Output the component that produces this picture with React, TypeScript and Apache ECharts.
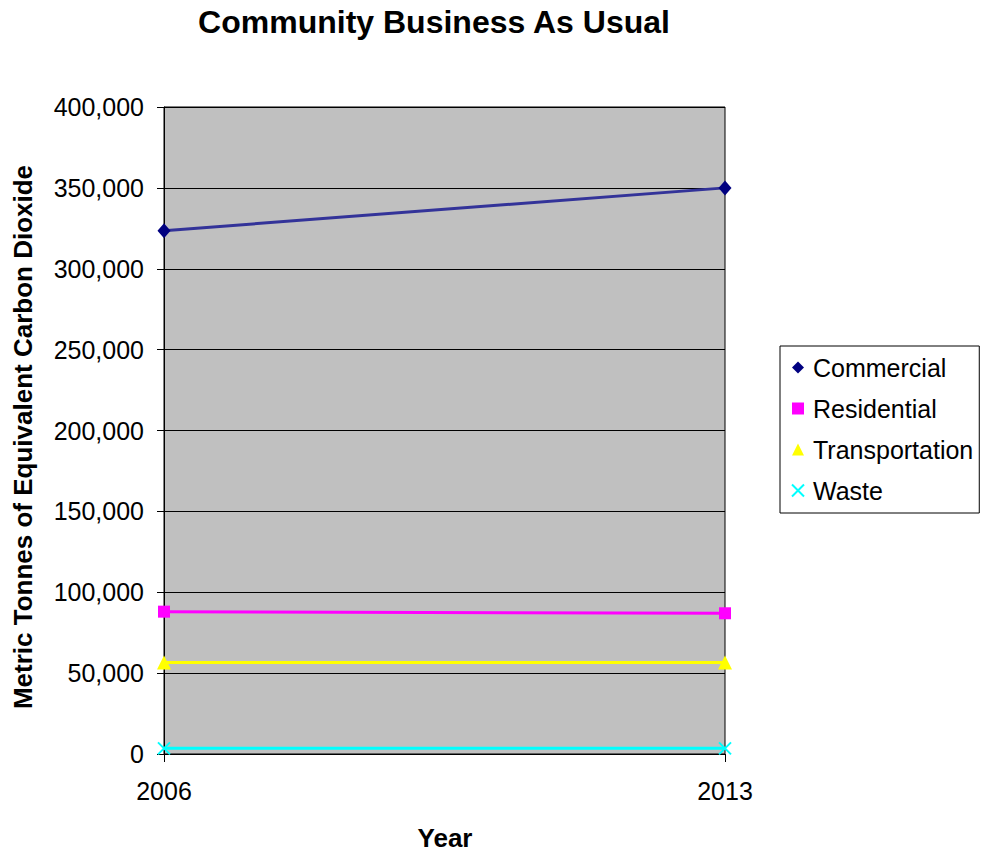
import React, { useEffect, useRef } from "react";
import * as echarts from "echarts";

const years = ["2006", "2013"];
const commercial = [323500, 350000];
const residential = [88000, 87000];
const transportation = [56500, 56500];
const waste = [3500, 3500];
const yTicks = { min: 0, max: 400000, interval: 50000 };

const FONT = "'Liberation Sans', Arial, sans-serif";
const CROSS = "path://M0,0L10,10M10,0L0,10";

export default function App() {
  const ref = useRef<HTMLDivElement>(null);
  useEffect(() => {
    if (!ref.current) return;
    const chart = echarts.init(ref.current, null, { renderer: "svg" });
    chart.setOption({
      animation: false,
      backgroundColor: "#ffffff",
      textStyle: { fontFamily: FONT },
      grid: {
        left: 164,
        right: 257,
        top: 107,
        bottom: 98,
        show: true,
        backgroundColor: "#c0c0c0",
        borderColor: "#000000",
        borderWidth: 1,
      },
      graphic: [
        {
          type: "text",
          x: 434,
          y: 22,
          style: {
            text: "Community Business As Usual",
            font: `bold 32px ${FONT}`,
            fill: "#000",
            textAlign: "center",
            textVerticalAlign: "middle",
          },
        },
        {
          type: "text",
          x: 23,
          y: 437,
          rotation: Math.PI / 2,
          style: {
            text: "Metric Tonnes of Equivalent Carbon Dioxide",
            font: `bold 26px ${FONT}`,
            fill: "#000",
            textAlign: "center",
            textVerticalAlign: "middle",
          },
        },
        {
          type: "text",
          x: 445,
          y: 838,
          style: {
            text: "Year",
            font: `bold 26px ${FONT}`,
            fill: "#000",
            textAlign: "center",
            textVerticalAlign: "middle",
          },
        },
      ],
      legend: {
        orient: "vertical",
        left: 780,
        top: 346,
        padding: [9, 6, 10, 11],
        itemGap: 16,
        itemWidth: 12,
        itemHeight: 12,
        borderColor: "#000",
        borderWidth: 1,
        backgroundColor: "#fff",
        textStyle: {
          fontSize: 25,
          lineHeight: 25,
          color: "#000",
          fontFamily: FONT,
          padding: [0, 0, 0, 4],
        },
        data: [
          { name: "Commercial", icon: "diamond", itemStyle: { color: "#000080" } },
          { name: "Residential", icon: "rect", itemStyle: { color: "#ff00ff" } },
          { name: "Transportation", icon: "triangle", itemStyle: { color: "#ffff00" } },
          {
            name: "Waste",
            icon: CROSS,
            itemStyle: { color: "#00ffff", borderColor: "#00ffff", borderWidth: 2 },
          },
        ],
      },
      xAxis: {
        type: "category",
        data: years,
        boundaryGap: false,
        axisLine: { lineStyle: { color: "#000", width: 1 } },
        axisTick: { show: true, length: 8, lineStyle: { color: "#000" } },
        axisLabel: { fontSize: 25, color: "#000", margin: 24, fontFamily: FONT },
      },
      yAxis: {
        type: "value",
        min: yTicks.min,
        max: yTicks.max,
        interval: yTicks.interval,
        axisLine: { show: true, lineStyle: { color: "#000", width: 1 } },
        axisTick: { show: true, length: 7, lineStyle: { color: "#000" } },
        splitLine: { show: true, lineStyle: { color: "#000", width: 1 } },
        axisLabel: {
          fontSize: 25,
          color: "#000",
          margin: 20,
          fontFamily: FONT,
          formatter: (v: number) => v.toLocaleString("en-US"),
        },
      },
      series: [
        {
          name: "Commercial",
          type: "line",
          data: commercial,
          symbol: "diamond",
          symbolSize: [13, 15],
          lineStyle: { color: "#333399", width: 3 },
          itemStyle: { color: "#000080" },
        },
        {
          name: "Residential",
          type: "line",
          data: residential,
          symbol: "rect",
          symbolSize: 12,
          lineStyle: { color: "#ff00ff", width: 3 },
          itemStyle: { color: "#ff00ff" },
        },
        {
          name: "Transportation",
          type: "line",
          data: transportation,
          symbol: "triangle",
          symbolSize: 14,
          lineStyle: { color: "#ffff00", width: 3 },
          itemStyle: { color: "#ffff00" },
        },
        {
          name: "Waste",
          type: "line",
          data: waste,
          symbol: CROSS,
          symbolSize: 12,
          lineStyle: { color: "#00ffff", width: 3 },
          itemStyle: { color: "#00ffff", borderColor: "#00ffff", borderWidth: 2 },
        },
      ],
    });
    return () => chart.dispose();
  }, []);
  return <div ref={ref} style={{ width: 982, height: 852, position: "absolute", left: 0, top: 0 }} />;
}
